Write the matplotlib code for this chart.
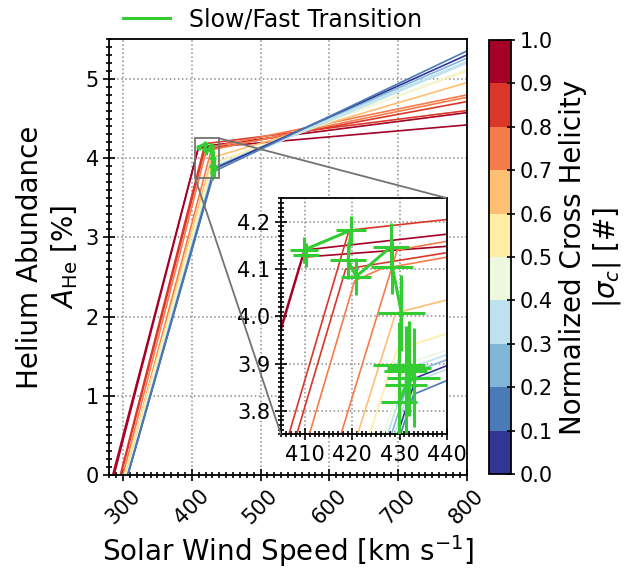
import numpy as np
import matplotlib
matplotlib.use('Agg')
import matplotlib.pyplot as plt
from matplotlib.ticker import AutoMinorLocator, MultipleLocator
from mpl_toolkits.axes_grid1.inset_locator import mark_inset

# Fit lines: |sigma_c| bin centre and the vertices (speed, A_He) of each fit
line_sigma = [0.95, 0.95, 0.85, 0.85, 0.75, 0.75, 0.65, 0.55, 0.45, 0.35, 0.35, 0.25, 0.05, 0.15]
line_speed = [
    [287, 409.5, 800],
    [285, 409.8, 800],
    [296, 419.3, 800],
    [297, 418.6, 800],
    [300, 420.5, 426, 800],
    [303, 429.5, 800],
    [303, 429.2, 800],
    [302, 429.5, 800],
    [305, 431.5, 800],
    [306, 432.0, 800],
    [307, 432.5, 800],
    [306.5, 432.5, 800],
    [307, 433.5, 800],
    [307, 433.0, 800],
]
line_abund = [
    [0, 4.125, 4.419],
    [0, 4.140, 4.574],
    [0, 4.182, 4.600],
    [0, 4.100, 4.713],
    [0, 4.075, 4.100, 4.768],
    [0, 4.140, 4.798],
    [0, 4.007, 4.953],
    [0, 3.930, 5.100],
    [0, 3.900, 5.120],
    [0, 3.890, 5.218],
    [0, 3.860, 5.200],
    [0, 3.880, 5.260],
    [0, 3.870, 5.302],
    [0, 3.835, 5.352],
]

# Slow/fast transition points with uncertainties
trans_v = [410.2, 409.7, 419.7, 419.1, 420.8, 428.2, 428.5, 430.4, 429.9, 431.3, 432.0, 433.0, 431.4, 429.9]
trans_a = [4.130, 4.140, 4.182, 4.118, 4.084, 4.147, 4.104, 4.007, 3.897, 3.884, 3.890, 3.870, 3.854, 3.818]
trans_verr = [2.8, 3.0, 3.2, 3.75, 3.2, 3.75, 4.45, 4.9, 5.5, 4.5, 4.7, 5.6, 4.4, 3.9]
trans_aerr = [0.026, 0.028, 0.030, 0.040, 0.039, 0.050, 0.056, 0.080, 0.090, 0.095, 0.100, 0.105, 0.100, 0.090]

cmap = plt.get_cmap('RdYlBu_r', 10)
norm = matplotlib.colors.Normalize(0, 1)
green = '#33cc33'

plt.rcParams['font.family'] = 'DejaVu Sans'

fig = plt.figure(figsize=(6.41, 5.78), dpi=100)
ax = fig.add_axes([0.1705, 0.1782, 0.5576, 0.7538])
axins = fig.add_axes([0.4384, 0.2483, 0.2585, 0.409])


def draw(a, lw):
    for s, v, y in zip(line_sigma, line_speed, line_abund):
        a.plot(v, y, color=cmap(norm(s)), lw=lw, zorder=2)
    a.errorbar(trans_v, trans_a, xerr=trans_verr, yerr=trans_aerr, fmt='none',
               ecolor=green, elinewidth=2.2, capsize=0, zorder=4)
    a.plot(trans_v, trans_a, color=green, lw=2.2, zorder=4)


draw(ax, 1.2)
draw(axins, 1.2)

ax.set_xlim(280, 800)
ax.set_ylim(0, 5.5)
axins.set_xlim(404.9, 440)
axins.set_ylim(3.75, 4.25)

for a in (ax, axins):
    a.xaxis.set_minor_locator(AutoMinorLocator(10))
    a.yaxis.set_minor_locator(AutoMinorLocator(10))
    a.tick_params(which='both', direction='inout', labelsize=15, width=1.2)
    a.tick_params(which='major', length=8)
    a.tick_params(which='minor', length=4)
    a.grid(True, which='major', ls=':', color='0.55', lw=1.1)
    for sp in a.spines.values():
        sp.set_linewidth(1.3)

ax.xaxis.set_major_locator(MultipleLocator(100))
ax.yaxis.set_major_locator(MultipleLocator(1))
axins.xaxis.set_major_locator(MultipleLocator(10))
axins.yaxis.set_major_locator(MultipleLocator(0.1))
for lab in ax.get_xticklabels():
    lab.set_rotation(45)

ax.set_xlabel(r'Solar Wind Speed [km s$^{-1}$]', fontsize=20)
ax.set_ylabel('Helium Abundance\n' + r'$A_\mathrm{He}$ [%]', fontsize=20)

mark_inset(ax, axins, loc1=1, loc2=3, fc='none', ec='0.45', lw=1.3, zorder=5)

ax.plot([], [], color=green, lw=2.2, label='Slow/Fast Transition')
fig.legend(loc='center', bbox_to_anchor=(0.425, 0.966), frameon=False, fontsize=17)

cax = fig.add_axes([0.763, 0.180, 0.0339, 0.7509])
sm = matplotlib.cm.ScalarMappable(norm=norm, cmap=cmap)
cb = fig.colorbar(sm, cax=cax, ticks=np.arange(0, 1.01, 0.1))
cb.ax.tick_params(labelsize=15, direction='inout', length=6, width=1.2)
cb.outline.set_linewidth(1.3)
cb.set_label('Normalized Cross Helicity\n' + r'$|\sigma_c|$ [#]', fontsize=20)

fig.savefig('out.png', dpi=100)
